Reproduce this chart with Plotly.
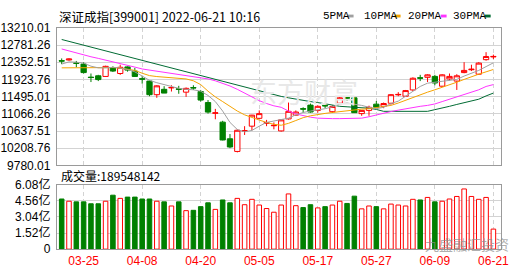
import plotly.graph_objects as go

# ---------------- data ----------------
dates = ["03-22","03-23","03-24","03-25","03-28","03-29","03-30","03-31","04-01","04-06",
         "04-07","04-08","04-11","04-12","04-13","04-14","04-15","04-18","04-19","04-20",
         "04-21","04-22","04-25","04-26","04-27","04-28","04-29","05-05","05-06","05-09",
         "05-10","05-11","05-12","05-13","05-16","05-17","05-18","05-19","05-20","05-23",
         "05-24","05-25","05-26","05-27","05-30","05-31","06-01","06-02","06-06","06-07",
         "06-08","06-09","06-10","06-13","06-14","06-15","06-16","06-17","06-20","06-21"]

opens = [12392,12409,12336,12307,11982,12015,11999,12213,12072,12237,
         12133,11942,11883,11544,11678,11713,11690,11607,11722,11623,
         11348,11080,10860,10445,10129,10636,10759,10955,10832,10770,
         10641,10940,11034,11195,11284,11152,11275,11120,11331,11470,
         11466,11072,11152,11308,11254,11331,11540,11506,11662,11966,
         11977,12000,11756,11937,11883,12095,12165,12055,12417,12485]
highs = [12448,12449,12385,12354,12072,12039,12267,12251,12291,12251,
         12213,12015,11897,11779,11756,11779,11765,11725,11779,11662,
         11411,11190,10893,10563,10681,10759,11042,11152,10916,10853,
         10931,11348,11152,11230,11324,11277,11308,11277,11490,11490,
         11482,11159,11270,11388,11348,11560,11607,11662,11977,12039,
         12055,12039,12055,12072,12055,12354,12291,12354,12604,12543]
lows = [12307,12392,12227,12072,11859,11883,11991,12109,12039,12119,
        11991,11819,11506,11466,11584,11623,11567,11489,11662,11371,
        11072,10931,10405,10210,10106,10540,10657,10940,10759,10681,
        10624,10924,11018,11096,11096,11096,11207,11089,11308,11388,
        11089,11018,11018,11207,11207,11294,11506,11506,11638,11883,
        11860,11779,11742,11897,11662,12079,12133,12039,12392,12432]
closes = [12382,12432,12326,12095,11972,11921,12251,12133,12227,12157,
          11999,11932,11544,11765,11584,11723,11680,11702,11712,11410,
          11110,11092,10415,10240,10657,10646,11034,11072,10842,10780,
          10916,11129,11112,11185,11112,11254,11265,11250,11466,11460,
          11096,11152,11230,11230,11324,11544,11550,11647,11954,11956,
          12039,11836,12039,12000,12015,12149,12178,12331,12495,12497]

# volume in 亿 (100 million)
volume_yi = [4.74,4.53,4.47,4.47,4.29,4.29,4.53,5.10,4.80,4.92,
             4.92,4.74,4.74,4.53,4.47,4.08,4.47,3.64,3.67,4.02,
             4.38,3.76,4.65,4.38,4.80,4.20,4.71,4.17,3.84,3.49,
             4.17,5.22,4.11,3.93,4.20,3.90,4.02,4.17,4.53,4.32,
             5.01,3.81,4.08,4.02,3.81,4.26,4.17,4.08,4.71,4.65,
             4.89,4.47,4.53,4.74,4.98,5.69,4.98,4.71,4.89,1.8955]

ma5 = [12307,12362,12354,12331,12255,12213,12213,12227,12208,12173,
       12114,12008,11902,11843,11796,11749,11702,11678,11666,11631,
       11525,11372,11136,10853,10676,10617,10653,10759,10853,10888,
       10924,10959,11042,11100,11136,11159,11195,11242,11313,11336,
       11313,11277,11230,11195,11230,11324,11383,11501,11631,11749,
       11831,11855,11890,11902,11925,12008,12079,12149,12244,12338]
ma10 = [12213,12213,12213,12213,12220,12225,12227,12220,12208,12185,
        12149,12079,12020,11996,11977,11961,11949,11937,11890,11796,
        11631,11489,11372,11254,11136,11042,10971,10912,10853,10806,
        10782,10830,10900,10971,11018,11053,11077,11100,11124,11148,
        11171,11183,11195,11218,11242,11277,11336,11407,11466,11537,
        11607,11666,11725,11784,11855,11925,11996,12055,12114,12173]
ma20 = [12684,12633,12581,12527,12489,12449,12409,12369,12326,12279,
        12232,12185,12159,12133,12102,12079,12055,12032,12001,11973,
        11937,11890,11831,11761,11678,11584,11489,11395,11324,11266,
        11230,11136,11065,11018,10983,10959,10947,10947,10947,10947,
        10947,10959,10994,11042,11089,11124,11159,11195,11230,11254,
        11277,11313,11372,11431,11489,11548,11607,11666,11749,11796]
ma30 = [12920,12873,12826,12776,12729,12682,12635,12588,12538,12491,
        12444,12397,12350,12300,12253,12206,12159,12112,12062,12015,
        11968,11921,11874,11824,11777,11730,11683,11636,11586,11539,
        11501,11466,11431,11407,11372,11348,11313,11289,11254,11242,
        11230,11218,11207,11176,11129,11129,11129,11129,11129,11129,
        11129,11171,11207,11254,11301,11348,11383,11431,11513,11584]

x_labels = ["03-25","04-08","04-20","05-05","05-17","05-27","06-09","06-21"]
price_ticks = [13210.01,12781.26,12352.51,11923.76,11495.01,11066.26,10637.51,10208.76,9780.01]
vol_ticks = [0, 1.52, 3.04, 4.56, 6.08]
vol_tick_text = ["0", "1.52亿", "3.04亿", "4.56亿", "6.08亿"]
title_text = "深证成指[399001] 2022-06-21 10:16"
vol_title = "成交量:189548142"
ma_names = ["5PMA", "10PMA", "20PMA", "30PMA"]
ma_colors = ["#a0a0a0", "#f5a300", "#ff33ff", "#006b33"]

RED = "#ff0000"
GREEN = "#008000"
GRID = "#d3d3d3"
FRAME = "#9a9a9a"
W, H = 530, 276

# ---------------- figure ----------------
fig = go.Figure()

for vals, col in zip([ma30, ma20, ma10, ma5], ma_colors[::-1]):
    fig.add_trace(go.Scatter(x=dates, y=vals, mode="lines",
                             line=dict(color=col, width=1),
                             hoverinfo="skip", xaxis="x", yaxis="y"))

fig.add_trace(go.Candlestick(
    x=dates, open=opens, high=highs, low=lows, close=closes,
    increasing=dict(line=dict(color=RED, width=1), fillcolor="white"),
    decreasing=dict(line=dict(color=GREEN, width=1), fillcolor=GREEN),
    whiskerwidth=0, hoverinfo="skip", xaxis="x", yaxis="y"))

up = [c >= o for o, c in zip(opens, closes)]
fig.add_trace(go.Bar(
    x=dates, y=volume_yi, width=0.62,
    marker=dict(color=["white" if u else GREEN for u in up],
                line=dict(color=[RED if u else GREEN for u in up], width=1)),
    hoverinfo="skip", xaxis="x2", yaxis="y2"))

x_dom = [55 / W, 509 / W]
xrange = [-0.66, 60.1]
common_x = dict(type="category", range=xrange, domain=x_dom,
                tickvals=x_labels, ticktext=x_labels,
                showgrid=True, gridcolor=GRID, griddash="4px,3px", gridwidth=1,
                showline=True, linecolor=FRAME, linewidth=1, mirror=True,
                zeroline=False, ticks="", fixedrange=True)

fig.update_layout(
    width=W, height=H, margin=dict(l=0, r=0, t=0, b=0),
    paper_bgcolor="white", plot_bgcolor="white", showlegend=False,
    boxgap=0.15, boxgroupgap=0.15,
    xaxis=dict(**common_x, anchor="y", showticklabels=False,
               rangeslider=dict(visible=False)),
    xaxis2=dict(**common_x, anchor="y2", matches="x", showticklabels=True,
                tickfont=dict(family="Liberation Sans", size=12, color=RED)),
    yaxis=dict(domain=[1 - 166.5 / H, 1 - 21 / H], range=[price_ticks[-1], price_ticks[0]],
               tickvals=price_ticks, ticktext=[f"{v:.2f}" for v in price_ticks],
               showgrid=True, gridcolor=GRID, gridwidth=1,
               showline=True, linecolor=FRAME, linewidth=1, mirror=True,
               zeroline=False, ticks="", ticklabelstandoff=3,
               tickfont=dict(family="Liberation Sans", size=12, color="#000")),
    yaxis2=dict(domain=[1 - 255 / H, 1 - 187 / H], range=[vol_ticks[0], vol_ticks[-1]],
                tickvals=vol_ticks, ticktext=vol_tick_text,
                showgrid=True, gridcolor=GRID, gridwidth=1,
                showline=True, linecolor=FRAME, linewidth=1, mirror=True,
                zeroline=False, ticks="", ticklabelstandoff=3,
                tickfont=dict(family="Liberation Sans, Noto Sans CJK SC", size=12, color="#000")),
)

annotations = [
    dict(text=title_text, x=55 / W, y=1 - 9 / H, xanchor="left", yanchor="middle",
         font=dict(family="Noto Sans CJK SC", size=12.5, color="#000")),
    dict(text=vol_title, x=57 / W, y=1 - 177.5 / H, xanchor="left", yanchor="middle",
         font=dict(family="Noto Sans CJK SC", size=12, color="#000")),
    dict(text="东方财富", x=307 / W, y=1 - 88 / H, xanchor="center", yanchor="middle",
         font=dict(family="Noto Sans CJK SC", size=27, color="#e8e8e8")),
    dict(text="九盛融汇投资", x=474 / W, y=1 - 250 / H, xanchor="center", yanchor="middle",
         font=dict(family="Noto Sans CJK SC", size=14, color="rgba(140,140,140,0.7)")),
]
legend_text_x = [325, 367, 412, 458]
legend_box_x = [352, 400, 447, 492]
shapes = []
for name, col, tx, bx in zip(ma_names, ma_colors, legend_text_x, legend_box_x):
    annotations.append(dict(text=name, x=tx / W, y=1 - 8.5 / H, xanchor="left", yanchor="middle",
                            font=dict(family="Liberation Mono", size=11, color="#000")))
    shapes.append(dict(type="rect", xref="paper", yref="paper",
                       x0=bx / W, x1=(bx + 6) / W, y0=1 - 10 / H, y1=1 - 7 / H,
                       fillcolor=col, line=dict(width=0)))
for a in annotations:
    a.update(xref="paper", yref="paper", showarrow=False)
fig.update_layout(annotations=annotations, shapes=shapes)

fig.write_html("out.html")
